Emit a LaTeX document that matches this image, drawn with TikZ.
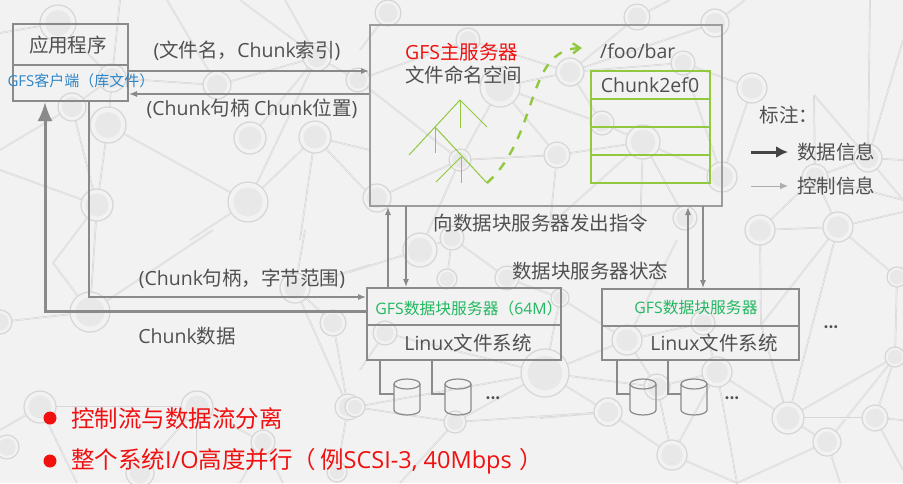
\documentclass[tikz,border=0pt]{standalone}
\usepackage{fontspec}
\setmainfont{Noto Sans CJK SC}
\newfontfamily\latfont{Open Sans}
\newcommand{\lat}[1]{{\latfont #1}}
\usepackage{xcolor}
\usetikzlibrary{arrows.meta,positioning}
\definecolor{paper}{HTML}{F2F2F2}
\definecolor{netline}{HTML}{D6D6D6}
\definecolor{netfill}{HTML}{E8E8E8}
\definecolor{boxline}{HTML}{8A8A8A}
\definecolor{ink}{HTML}{505050}
\definecolor{leaf}{HTML}{92C83E}
\definecolor{srvgreen}{HTML}{22B860}
\definecolor{cliblue}{HTML}{2E86C8}
\definecolor{alert}{HTML}{F01010}

% background net: name/x/y/radius
\def\netnodes{a/58/23/18,b/112/78/14,c/72/107/14,d/108/125/18,e/97/205/16,f/90/312/20,g/0/322/12,
  h/217/85/14,i/250/138/16,j/315/137/16,k/248/202/20,l/317/57/14,m/358/80/12,n/388/13/13,
  o/468/40/12,p/500/87/20,q/570/72/14,r/637/17/13,s/715/23/14,t/683/63/12,u/602/123/12,
  v/643/142/17,w/557/155/13,xx/460/160/11,yy/377/198/14,z/722/177/15,aa/752/88/15,ab/685/218/12,
  ac/420/250/17,ad/452/238/12,ae/447/279/10,af/507/278/12,ag/560/298/9,ah/385/333/12,ai/627/340/15,
  aj/703/323/12,ak/717/372/15,al/657/387/13,am/608/412/14,an/545/373/24,ao/788/418/16,ap/827/442/14,
  aq/875/418/13,ar/838/227/15,as/760/230/15,at/868/158/14,au/815/177/13,av/897/277/10,aw/895/357/10,
  ax/672/455/15,ay/295/288/15,az/333/323/13,ba/348/407/13,bb/40/407/16,bc/197/407/16,bd/263/442/12,
  be/7/447/12,bf/140/473/14,bg/337/472/10,bh/455/422/11,bi/355/407/10}

\begin{document}
\begin{tikzpicture}[
  x=1pt, y=-1pt,
  netring/.style={circle, draw=netline, line width=1.2pt, fill=paper, inner sep=0pt},
  netlink/.style={draw=netline, line width=0.6pt, double=paper, double distance=0.5pt},
  boxnode/.style={draw=boxline, line width=1.4pt, inner sep=0pt},
  msgtext/.style={text=ink, inner sep=0pt, font=\fontsize{19.5}{22}\selectfont},
  chunkcell/.style={draw=leaf, line width=1.3pt, minimum width=119pt, minimum height=28pt, inner sep=0pt},
  leafline/.style={draw=leaf, line width=1pt},
  flowctrl/.style={draw=boxline, line width=1.1pt, -{Latex[length=8pt,width=6pt]}},
  flowdata/.style={draw=boxline, line width=3pt, -{Latex[length=19pt,width=15pt]}},
  diskline/.style={draw=boxline, line width=1.2pt},
  diskbody/.style={minimum width=26pt, minimum height=8pt, inner sep=0pt},
  moredots/.style={text=ink, inner sep=0pt, font=\fontsize{14}{16}\bfseries\selectfont},
  pointdot/.style={circle, fill=alert, minimum size=13pt, inner sep=0pt},
  pointtext/.style={text=alert, anchor=west, inner sep=0pt, font=\fontsize{23.5}{26}\selectfont}
]
\useasboundingbox (0,0) rectangle (903,483);
\clip (0,0) rectangle (903,483);
\fill[paper] (0,0) rectangle (903,483);

% background net
\foreach \name/\x/\y/\r in \netnodes {\coordinate (\name) at (\x,\y);}
\foreach \name/\x/\y in {e1/120/0,e2/167/0,e3/240/0,e4/285/0,e5/0/33,e6/0/150,e7/0/170,e8/53/263,e9/213/230,
    e10/370/265,e11/305/230,e12/0/430,e13/77/483,e14/197/470,e15/283/483,e16/240/483,e17/365/190,
    e18/300/240,e19/190/240,e20/670/0,e21/745/0,e22/640/230,e23/550/225,e24/350/272,e25/360/370,
    e26/677/240,e27/814/95,e28/903/160,e29/903/200,e30/903/212,e31/761/325,e32/903/420,e33/903/470,
    e34/840/483,e35/737/483,e36/540/418,e37/400/483,e38/370/150,e39/360/50,e40/870/0,e41/903/40}
  {\coordinate (\name) at (\x,\y);}
\foreach \a/\b in {e5/a,a/b,e1/b,b/d,d/e,c/e,e6/c,c/b,b/h,e2/h,h/l,e3/l,e4/l,l/m,i/l,k/l,j/e38,j/e17,k/j,j/e18,
    k/e19,d/k,e/e7,e/f,f/e8,e8/e,f/g,f/e9,ay/e10,ay/e11,ay/ba,az/ba,az/ay,ba/bi,ba/bg,bb/bc,bb/e12,bb/e13,
    bc/bd,bc/bf,bc/e14,bd/e15,bd/e16,m/o,n/e39,m/xx,o/q,p/q,q/r,q/s,q/t,t/z,p/u,p/w,p/xx,u/v,u/q,w/v,
    xx/w,xx/yy,xx/ac,v/z,v/ab,v/e22,v/e23,w/e23,z/aa,aa/t,e20/r,s/e21,e27/au,e27/at,au/as,au/ar,at/au,
    at/e28,at/e29,au/e29,as/ar,ar/e30,ar/av,ar/e31,ar/ao,av/aw,aw/ap,aw/aq,ao/aw,ao/aq,aq/e32,aq/e33,ap/ao,
    ap/e34,ap/e35,as/e31,e31/ao,ak/ao,ak/e35,ak/ax,al/ax,al/an,an/am,am/e36,am/ax,ax/e35,ac/e24,ac/ad,ad/ae,
    ad/af,af/ag,ag/ai,an/ai,ah/an,ah/e25,an/ag,ai/al,ai/aj,ai/e26,aj/ak,ak/al,an/bh,bh/bi,bh/am,an/bi,bh/e37,
    at/e41,e40/at}
  {\draw[netlink] (\a) -- (\b);}
\foreach \name/\x/\y/\r in \netnodes {
  \node[netring, minimum size={2*\r*1pt}] (ring\name) at (\x,\y) {};
  \fill[netfill] (\x,\y) circle ({0.72*\r});
}

% client
\node[boxnode, minimum width=115pt, minimum height=41pt] (app) at (70.5,44.5) {};
\node[boxnode, minimum width=115pt, minimum height=36pt] (client) at (70.5,83) {};
\node[msgtext] (apptext) at (68,45) {应用程序};
\node[inner sep=0pt, text=cliblue, font=\fontsize{15}{17}\selectfont] (clienttext) at (81,81) {\lat{GFS}客户端（库文件）};

% master
\node[boxnode, draw=boxline!85, minimum width=352pt, minimum height=181pt] (master) at (546,115.5) {};
\node[msgtext, anchor=west, text=alert] (mastertitle) at (405,52) {\lat{GFS}主服务器};
\node[msgtext, anchor=west] (namespace) at (405,75) {文件命名空间};
\node[msgtext, anchor=west] (foobar) at (600,51) {\lat{/foo/bar}};
\node[chunkcell] (row1) at (650.5,85) {};
\node[chunkcell] (row2) at (650.5,113) {};
\node[chunkcell] (row3) at (650.5,141) {};
\node[chunkcell] (row4) at (650.5,169) {};
\node[msgtext] (chunkid) at (650,85) {\lat{Chunk2ef0}};

% name tree
\coordinate (top1) at (460,100);
\coordinate (top2) at (435,127);
\coordinate (top3) at (461,157);
\coordinate (tail) at (487,183);
\coordinate (head) at (582,48);
\draw[leafline] (409,155) -- (top2) -- (top1) -- (487,127);
\draw[leafline] (top1) -- (460,128);
\draw[leafline] (top2) -- (435,153);
\draw[leafline] (top2) -- (tail);
\draw[leafline] (top3) -- (461,183);
\draw[leafline] (top3) -- (436,182);
\draw[draw=leaf, line width=2.4pt, dash pattern=on 9pt off 9pt, -{Straight Barb[length=7pt,width=10pt]}]
  (tail) .. controls (540,135) and (525,50) .. (head);

% chunk servers
\node[boxnode, minimum width=194pt, minimum height=37pt] (srv1) at (464,306.5) {};
\node[boxnode, minimum width=194pt, minimum height=35pt] (fs1) at (464,342.5) {};
\node[boxnode, minimum width=197pt, minimum height=37pt] (srv2) at (700.5,307.5) {};
\node[boxnode, minimum width=197pt, minimum height=34pt] (fs2) at (700.5,343) {};
\node[inner sep=0pt, text=srvgreen, font=\fontsize{15.8}{18}\selectfont] (srv1text) at (469,308) {\lat{GFS}数据块服务器（\lat{64M}）};
\node[inner sep=0pt, text=srvgreen, font=\fontsize{15.8}{18}\selectfont] (srv2text) at (696,308) {\lat{GFS}数据块服务器};
\node[msgtext] (fs1text) at (468,343) {\lat{Linux}文件系统};
\node[msgtext] (fs2text) at (714,343) {\lat{Linux}文件系统};

% disks
\foreach \i/\x/\t in {1/407/380,2/458/432,3/643/617,4/694/668} {
  \node[diskbody] (disk\i) at (\x,394) {};
  \coordinate (tap\i) at (\t,360);
  \draw[diskline] (\x-13,384) -- (\x-13,410) arc[start angle=180, end angle=360, x radius=13pt, y radius=5pt]
    -- (\x+13,384);
  \draw[diskline] (\x,384) ellipse[x radius=13pt, y radius=5pt];
  \draw[diskline] (tap\i) |- (disk\i.west);
}
\node[moredots] (more1) at (493,398) {...};
\node[moredots] (more2) at (732,398) {...};
\node[moredots] (more3) at (831,327) {...};

% control flow
\coordinate (c1) at (128,71);
\coordinate (m1) at (369,71);
\coordinate (m2) at (369,94);
\coordinate (c2) at (129,94);
\coordinate (c3) at (89,101);
\coordinate (s1) at (366,297);
\draw[flowctrl] (c1) -- (m1);
\draw[flowctrl] (m2) -- (c2);
\draw[flowctrl] (c3) |- (s1);
\node[msgtext] (msg1) at (247,51) {\lat{(}文件名，\lat{Chunk}索引\lat{)}};
\node[msgtext] (msg2) at (252,109) {\lat{(Chunk}句柄 \lat{Chunk}位置\lat{)}};
\node[msgtext] (msg3) at (242,279) {\lat{(Chunk}句柄，字节范围\lat{)}};
\node[msgtext] (msg4) at (187,336) {\lat{Chunk}数据};

% data flow
\coordinate (s2) at (367,311.5);
\coordinate (c4) at (45,102);
\draw[flowdata] (s2) -| (c4);

% master <-> servers
\coordinate (up1a) at (388,288);
\coordinate (up1b) at (388,207);
\coordinate (dn1a) at (406,206);
\coordinate (dn1b) at (406,287);
\coordinate (up2a) at (688,289);
\coordinate (up2b) at (688,207);
\coordinate (dn2a) at (703,206);
\coordinate (dn2b) at (703,288);
\draw[flowctrl] (up1a) -- (up1b);
\draw[flowctrl] (dn1a) -- (dn1b);
\draw[flowctrl] (up2a) -- (up2b);
\draw[flowctrl] (dn2a) -- (dn2b);
\node[msgtext] (cmd) at (541,223) {向数据块服务器发出指令};
\node[msgtext] (state) at (590,271) {数据块服务器状态};

% legend
\node[msgtext] (legend) at (789,115) {标注：};
\coordinate (la) at (751,152);
\coordinate (lb) at (788,152);
\coordinate (lc) at (751,186);
\coordinate (ld) at (788,186);
\draw[draw=ink!85!black, line width=3pt, -{Latex[length=12pt,width=12pt]}] (la) -- (lb);
\draw[draw=boxline!70, line width=1pt, -{Latex[length=8pt,width=7pt]}] (lc) -- (ld);
\node[msgtext, anchor=west] (dataname) at (797,152) {数据信息};
\node[msgtext, anchor=west] (ctrlname) at (797,186) {控制信息};

% bottom points
\node[pointdot] (p1) at (50,418) {};
\node[pointdot] (p2) at (50,461) {};
\node[pointtext] (p1text) at (71,419) {控制流与数据流分离};
\node[pointtext] (p2text) at (71,461) {整个系统\lat{I/O}高度并行（\hspace{4pt}例\lat{SCSI-3, 40Mbps}\hspace{8pt}）};
\end{tikzpicture}
\end{document}
